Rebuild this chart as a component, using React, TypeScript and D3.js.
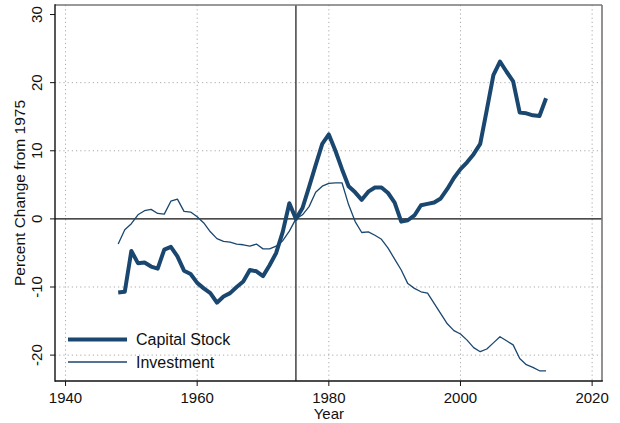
import React from "react";
import * as d3 from "d3";

// Years covered by both series
const years: number[] = d3.range(1948, 2014);

// Percent change from 1975, capital stock
const capitalStock: number[] = [
  -10.8, -10.7, -4.7, -6.5, -6.4, -7.0, -7.3, -4.5, -4.1, -5.5,
  -7.6, -8.1, -9.4, -10.2, -10.9, -12.3, -11.4, -10.9, -10.0, -9.2,
  -7.5, -7.7, -8.4, -6.8, -5.0, -1.9, 2.3, 0.0, 1.6, 4.7,
  7.9, 11.0, 12.4, 10.0, 7.3, 4.8, 3.9, 2.8, 4.0, 4.6,
  4.6, 3.8, 2.4, -0.4, -0.2, 0.5, 2.0, 2.2, 2.4, 3.0,
  4.4, 6.0, 7.3, 8.3, 9.5, 11.0, 16.0, 21.1, 23.1, 21.6,
  20.2, 15.6, 15.5, 15.2, 15.1, 17.7,
];

// Percent change from 1975, investment
const investment: number[] = [
  -3.7, -1.6, -0.7, 0.6, 1.2, 1.4, 0.8, 0.7, 2.6, 2.9,
  1.1, 1.0, 0.3, -0.6, -1.9, -2.9, -3.3, -3.4, -3.7, -3.8,
  -4.0, -3.7, -4.4, -4.4, -4.0, -3.2, -1.8, 0.0, 0.6, 1.8,
  3.9, 4.8, 5.2, 5.3, 5.3, 2.1, -0.4, -2.0, -1.9, -2.4,
  -3.0, -4.3, -5.9, -7.5, -9.5, -10.2, -10.7, -10.9, -12.4, -13.9,
  -15.4, -16.4, -16.9, -17.8, -18.9, -19.5, -19.1, -18.2, -17.3, -17.9,
  -18.5, -20.5, -21.4, -21.8, -22.3, -22.3,
];

const xTicks: number[] = [1940, 1960, 1980, 2000, 2020];
const yTicks: number[] = [-20, -10, 0, 10, 20, 30];
const seriesNames: string[] = ["Capital Stock", "Investment"];
const baseYear = 1975;

const W = 620;
const H = 423;
const left = 55;
const right = 602;
const top = 5;
const bottom = 381;
const navy = "#1a476f";
const font = "'Liberation Sans', Arial, Helvetica, sans-serif";

export default function App() {
  const x = d3.scaleLinear().domain([1938.4, 2021.5]).range([left, right]);
  const y = d3.scaleLinear().domain([-23.8, 31.4]).range([bottom, top]);

  const line = d3
    .line<[number, number]>()
    .x((d) => x(d[0]))
    .y((d) => y(d[1]));

  const capPath = line(years.map((yr, i) => [yr, capitalStock[i]] as [number, number])) || "";
  const invPath = line(years.map((yr, i) => [yr, investment[i]] as [number, number])) || "";

  return (
    <svg
      width={W}
      height={H}
      style={{ position: "absolute", left: 0, top: 0, background: "#fff" }}
      fontFamily={font}
    >
      <rect x={0} y={0} width={W} height={H} fill="#fff" />

      {/* dotted grid */}
      {yTicks
        .filter((t) => t !== 0 && t !== 30)
        .map((t) => (
          <line
            key={"gy" + t}
            x1={left}
            x2={right}
            y1={y(t)}
            y2={y(t)}
            stroke="#aaa"
            strokeWidth={1}
            strokeDasharray="1.2,3"
          />
        ))}
      {xTicks.map((t) => (
        <line
          key={"gx" + t}
          x1={x(t)}
          x2={x(t)}
          y1={top}
          y2={bottom}
          stroke="#aaa"
          strokeWidth={1}
          strokeDasharray="1.2,3"
        />
      ))}

      {/* reference lines at zero and the base year */}
      <line x1={left} x2={right} y1={y(0)} y2={y(0)} stroke="#111" strokeWidth={1.4} />
      <line x1={x(baseYear)} x2={x(baseYear)} y1={top} y2={bottom} stroke="#333" strokeWidth={1.4} />

      {/* series */}
      <path d={invPath} fill="none" stroke={navy} strokeWidth={1.3} strokeLinejoin="round" />
      <path d={capPath} fill="none" stroke={navy} strokeWidth={4} strokeLinejoin="round" />

      {/* frame */}
      <line x1={left} x2={right} y1={top} y2={top} stroke="#777" strokeWidth={1.6} />
      <line x1={right} x2={right} y1={top} y2={bottom} stroke="#777" strokeWidth={1.6} />
      <line x1={left} x2={left} y1={top - 0.8} y2={bottom + 0.8} stroke="#111" strokeWidth={1.4} />
      <line x1={left} x2={right + 0.8} y1={bottom} y2={bottom} stroke="#111" strokeWidth={1.4} />

      {/* y axis */}
      {yTicks.map((t) => (
        <g key={"yt" + t}>
          <line x1={left - 5} x2={left} y1={y(t)} y2={y(t)} stroke="#111" strokeWidth={1} />
          <text
            transform={`translate(42,${y(t)}) rotate(-90)`}
            textAnchor="middle"
            fontSize={15}
            fill="#111"
          >
            {t}
          </text>
        </g>
      ))}
      <text
        transform={`translate(25,${(top + bottom) / 2}) rotate(-90)`}
        textAnchor="middle"
        fontSize={15.5}
        fill="#111"
      >
        Percent Change from 1975
      </text>

      {/* x axis */}
      {xTicks.map((t) => (
        <g key={"xt" + t}>
          <line x1={x(t)} x2={x(t)} y1={bottom} y2={bottom + 5} stroke="#111" strokeWidth={1} />
          <text x={x(t)} y={403} textAnchor="middle" fontSize={15} fill="#111">
            {t}
          </text>
        </g>
      ))}
      <text x={x(1980)} y={419} textAnchor="middle" fontSize={15} fill="#111">
        Year
      </text>

      {/* legend */}
      {seriesNames.map((name, i) => (
        <g key={name}>
          <line
            x1={68}
            x2={127}
            y1={339.5 + i * 22.5}
            y2={339.5 + i * 22.5}
            stroke={navy}
            strokeWidth={i === 0 ? 4 : 1.3}
          />
          <text x={136} y={339.5 + i * 22.5 + 5.5} fontSize={16} fill="#111">
            {name}
          </text>
        </g>
      ))}
    </svg>
  );
}
